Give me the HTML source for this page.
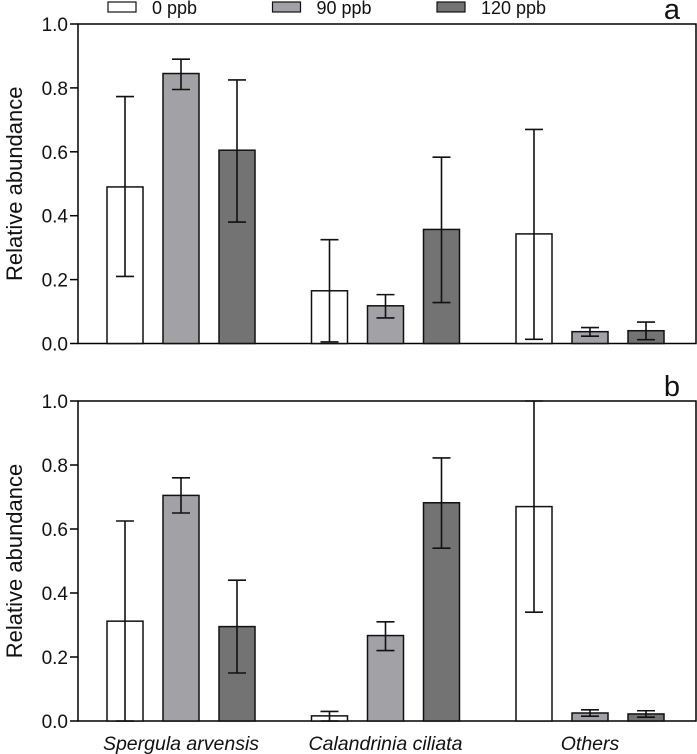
<!DOCTYPE html>
<html><head><meta charset="utf-8"><style>
body{margin:0;background:#fff}
svg{display:block;font-family:"Liberation Sans",sans-serif}
</style></head><body>
<svg id="c" width="697" height="754"></svg>
<script>
const categories=["Spergula arvensis","Calandrinia ciliata","Others"];
const seriesNames=["0 ppb","90 ppb","120 ppb"];
const aMean=[[0.49,0.845,0.605],[0.165,0.118,0.357],[0.343,0.037,0.04]];
const aLo=[[0.21,0.795,0.38],[0.005,0.08,0.128],[0.013,0.023,0.012]];
const aHi=[[0.773,0.89,0.825],[0.325,0.153,0.583],[0.67,0.05,0.067]];
const bMean=[[0.312,0.705,0.295],[0.016,0.267,0.682],[0.67,0.025,0.022]];
const bLo=[[0,0.65,0.15],[0,0.22,0.54],[0.34,0.015,0.012]];
const bHi=[[0.625,0.76,0.44],[0.03,0.31,0.822],[1.0,0.035,0.032]];
const yTicks=["0.0","0.2","0.4","0.6","0.8","1.0"];
const fills=["#ffffff","#a2a2a6","#737373"];
const svg=document.getElementById('c');
const NS='http://www.w3.org/2000/svg';
function mk(t,a,p){const e=document.createElementNS(NS,t);for(const k in a)e.setAttribute(k,a[k]);(p||svg).appendChild(e);return e;}
const X0=78,X1=696;
function xBar(g,s){return 107+g*204.5+s*56;}
const BW=36;
function panel(name,top,bot,mean,lo,hi,letter){
  const g=mk('g',{});
  
  
  const y=v=>bot-v*(bot-top);
  const box=mk('rect',{x:X0,y:top,width:X1-X0,height:bot-top,fill:'none',stroke:'#000','stroke-width':1.5},g);
  
  
  yTicks.forEach(t=>{const v=parseFloat(t);
    const tk=mk('line',{x1:70,x2:X0,y1:y(v),y2:y(v),stroke:'#000','stroke-width':1.5},g);
    
    
    const tx=mk('text',{x:68,y:y(v)+7,'text-anchor':'end','font-size':19,fill:'#111'},g);tx.textContent=t;
    
    
  });
  const yt=mk('text',{x:0,y:0,transform:`translate(22,${(top+bot)/2}) rotate(-90)`,'text-anchor':'middle','font-size':22,fill:'#111'},g);
  yt.textContent='Relative abundance';
  
  
  const lt=mk('text',{x:672,y:top-5,'text-anchor':'middle','font-size':29,fill:'#111'},g);lt.textContent=letter;
  
  
  for(let c=0;c<categories.length;c++)for(let s=0;s<3;s++){
    const x=xBar(c,s),m=mean[c][s];
    const r=mk('rect',{x:x,y:y(m),width:BW,height:bot-y(m),fill:fills[s],stroke:'#111','stroke-width':1.5},g);
    
    
    const cx=x+BW/2;
    const e=mk('path',{d:`M${cx},${y(lo[c][s])}V${y(hi[c][s])}M${cx-9},${y(hi[c][s])}h18M${cx-9},${y(lo[c][s])}h18`,stroke:'#111','stroke-width':1.6,fill:'none'},g);
    
    
  }
}
panel('a',24,343.5,aMean,aLo,aHi,'a');
panel('b',401,721,bMean,bLo,bHi,'b');
categories.forEach((c,i)=>{
  const t=mk('text',{x:xBar(i,1)+BW/2,y:750,'text-anchor':'middle','font-size':19.5,'font-style':'italic',fill:'#111'});
  t.textContent=c;
  
  
});
seriesNames.forEach((n,i)=>{
  const bx=108+i*164.5;
  const r=mk('rect',{x:bx,y:2,width:28,height:10,fill:fills[i],stroke:'#111','stroke-width':1.2});
  
  
  const t=mk('text',{x:bx+44,y:14,'font-size':18,fill:'#111'});t.textContent=n;
  
  
});
</script>
</body></html>
